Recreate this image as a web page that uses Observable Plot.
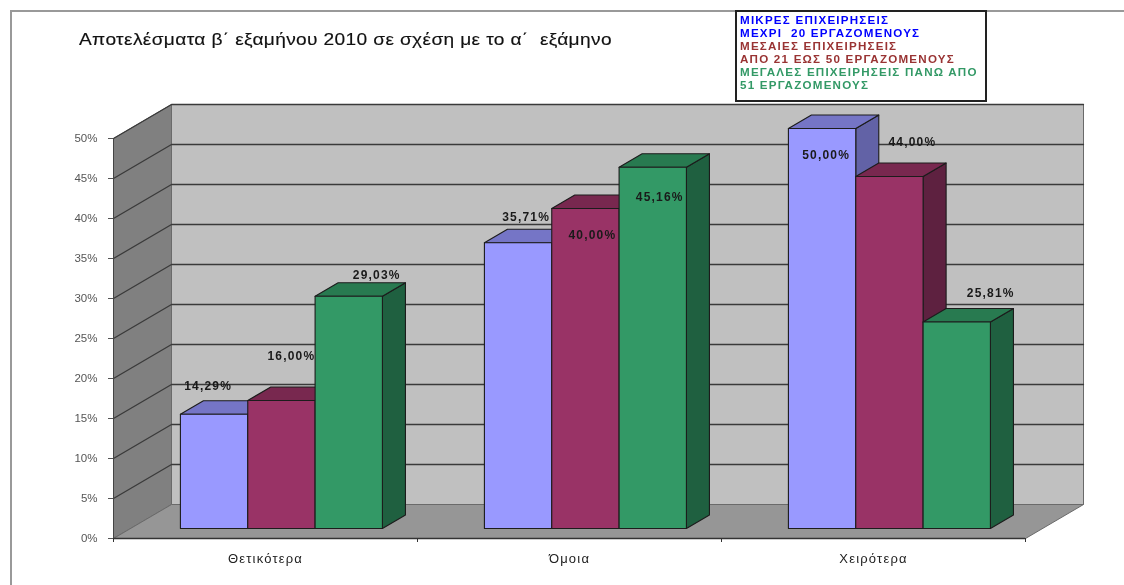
<!DOCTYPE html>
<html lang="el">
<head>
<meta charset="utf-8">
<script src="https://cdn.jsdelivr.net/npm/d3@7"></script>
<script src="https://cdn.jsdelivr.net/npm/@observablehq/plot@0.6"></script>
<style>
html,body{margin:0;padding:0;background:#fff;}
#wrap{position:relative;width:1124px;height:585px;overflow:hidden;font-family:"Liberation Sans",Arial,sans-serif;filter:blur(.35px);}
#frame{position:absolute;left:10px;top:10px;width:1200px;height:700px;border-left:2px solid #999;border-top:2px solid #999;}
#title{position:absolute;left:79px;top:31px;font-size:16px;letter-spacing:.3px;color:#111;white-space:pre;transform-origin:0 0;transform:scaleX(1.195);-webkit-text-stroke:.15px #111;}
#legend{position:absolute;left:735px;top:10px;width:248px;height:88px;border:2px solid #222;background:#fff;}
#legendInner{position:absolute;left:3px;top:2px;font-size:10.5px;line-height:13px;font-weight:bold;letter-spacing:1.1px;transform-origin:0 0;transform:scaleX(1.105);white-space:pre;}
#chart svg{display:block;}
#chart g[font-weight="bold"] text{letter-spacing:1.2px;}
#chart g[font-size="13"] text{letter-spacing:1.2px;}
</style>
</head>
<body>
<div id="wrap">
  <div id="chart"></div>
  <div id="frame"></div>
  <div id="title"></div>
  <div id="legend"><div id="legendInner"></div></div>
</div>
<script>
const titleText = "Αποτελέσματα β΄ εξαμήνου 2010 σε σχέση με το α΄  εξάμηνο";
const categories = ["Θετικότερα", "Όμοια", "Χειρότερα"];
const small = [14.29, 35.71, 50.00];
const medium = [16.00, 40.00, 44.00];
const large = [29.03, 45.16, 25.81];
const legendLines = [
  "ΜΙΚΡΕΣ ΕΠΙΧΕΙΡΗΣΕΙΣ",
  "ΜΕΧΡΙ  20 ΕΡΓΑΖΟΜΕΝΟΥΣ",
  "ΜΕΣΑΙΕΣ ΕΠΙΧΕΙΡΗΣΕΙΣ",
  "ΑΠΟ 21 ΕΩΣ 50 ΕΡΓΑΖΟΜΕΝΟΥΣ",
  "ΜΕΓΑΛΕΣ ΕΠΙΧΕΙΡΗΣΕΙΣ ΠΑΝΩ ΑΠΟ",
  "51 ΕΡΓΑΖΟΜΕΝΟΥΣ"
];
const legendColors = ["#0000ff", "#0000ff", "#993333", "#993333", "#339966", "#339966"];
const yTicks = [0, 5, 10, 15, 20, 25, 30, 35, 40, 45, 50];

// Faces of each series: front, top, side
const seriesValues = [small, medium, large];
const seriesFaces = [
  ["#9999ff", "#7575c6", "#6262a6"],
  ["#993366", "#78284f", "#5e2140"],
  ["#339966", "#287a50", "#1f6040"]
];

// Oblique projection, in data units of the two scales
const shiftX = 58 / 304, shiftY = 34 / 8;
const depthFront = 10 / 34, depthBack = 23.5 / 34;
const barPad = 0.164, barW = 0.2215;
const labelDx = [-6, 10, 28, 8, 7, 7, 4, 23, 34];
const labelDy = [-28, -44, -21, -26, 27, 30, 27, -34, -29];

const project = (x, v, d) => ({x: x + d * shiftX, y: v + d * shiftY});
let polyId = 0;
const poly = (points, fill) => {
  const id = polyId++;
  const pts = [...points, points[0]];
  return pts.map(p => ({...p, id, fill}));
};

const n = categories.length;
const shell = [
  ...poly([project(0, 0, 1), project(n, 0, 1), project(n, 50, 1), project(0, 50, 1)], "#c0c0c0"),
  ...poly([project(0, 0, 0), project(0, 50, 0), project(0, 50, 1), project(0, 0, 1)], "#808080"),
  ...poly([project(0, 0, 0), project(n, 0, 0), project(n, 0, 1), project(0, 0, 1)], "#969696")
];
const grid = yTicks.filter(v => v > 0).flatMap(v => [
  {...project(0, v, 0), v}, {...project(0, v, 1), v}, {...project(n, v, 1), v}
]);

const bars = [];
const labels = [];
categories.forEach((c, i) => {
  seriesValues.forEach((vals, j) => {
    const v = vals[i];
    const [front, top, side] = seriesFaces[j];
    const x0 = i + barPad + j * barW, x1 = x0 + barW;
    bars.push(...poly([project(x1, 0, depthFront), project(x1, 0, depthBack), project(x1, v, depthBack), project(x1, v, depthFront)], side));
    bars.push(...poly([project(x0, v, depthFront), project(x1, v, depthFront), project(x1, v, depthBack), project(x0, v, depthBack)], top));
    bars.push(...poly([project(x0, 0, depthFront), project(x1, 0, depthFront), project(x1, v, depthFront), project(x0, v, depthFront)], front));
    const k = labels.length;
    const p = project((x0 + x1) / 2, v, depthFront);
    labels.push({...p, text: v.toFixed(2).replace(".", ",") + "%", dx: labelDx[k], dy: labelDy[k]});
  });
});

const chart = Plot.plot({
  width: 1124,
  height: 585,
  marginLeft: 113,
  marginRight: 99,
  marginTop: 138,
  marginBottom: 47,
  x: {domain: [0, n], axis: null},
  y: {domain: [0, 50], axis: null},
  color: {type: "identity"},
  style: {background: "#fff", overflow: "visible", fontFamily: "'Liberation Sans', Arial, sans-serif"},
  marks: [
    Plot.line(shell, {x: "x", y: "y", z: "id", fill: "fill", stroke: "#6a6a6a", strokeWidth: 1}),
    Plot.line(grid, {x: "x", y: "y", z: "v", stroke: "#3a3a3a", strokeWidth: 1.3}),
    Plot.axisY({ticks: yTicks, tickFormat: d => d + "%", tickSize: 5, tickPadding: 11, fontSize: 11.5, color: "#555", label: null}),
    Plot.axisX({ticks: d3.range(n + 1), tickFormat: () => "", tickSize: 4, color: "#333", label: null}),
    Plot.ruleY([0], {stroke: "#333", strokeWidth: 1.5}),
    Plot.ruleX([0], {y1: 0, y2: 50, stroke: "#444", strokeWidth: 1}),
    Plot.line(bars, {x: "x", y: "y", z: "id", fill: "fill", stroke: "#1c1c1c", strokeWidth: 1.1, strokeLinejoin: "round"}),
    Plot.text(categories, {x: (d, i) => i + 0.5, y: () => 0, text: d => d, dy: 20, fontSize: 13, fill: "#222"}),
    ...labels.map(l => Plot.text([l], {x: "x", y: "y", text: "text", dx: l.dx, dy: l.dy, fontSize: 12, fontWeight: "bold", fill: "#1a1a1a"}))
  ]
});
document.getElementById("chart").append(chart);
document.getElementById("title").textContent = titleText;
const lg = document.getElementById("legendInner");
legendLines.forEach((l, i) => {
  const d = document.createElement("div");
  d.textContent = l;
  d.style.color = legendColors[i];
  lg.append(d);
});
</script>
</body>
</html>
